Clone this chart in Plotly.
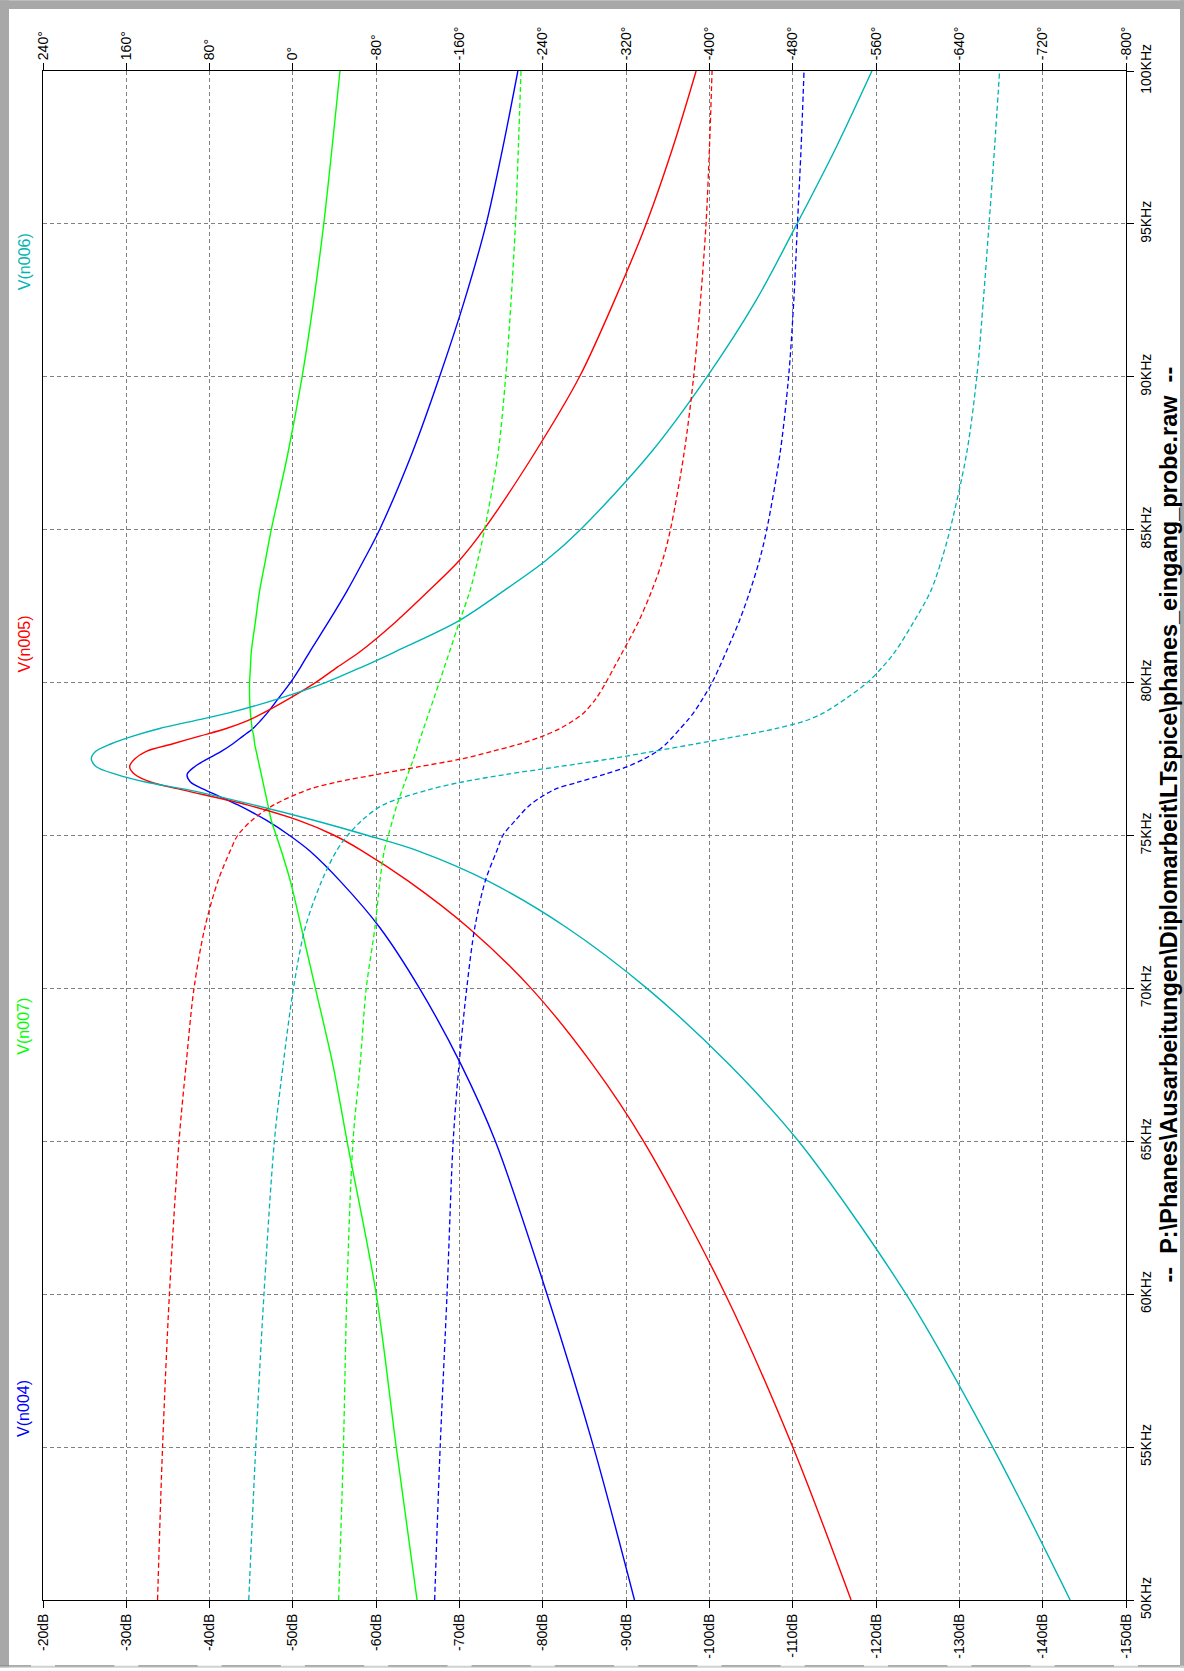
import plotly.graph_objects as go

# Frequency sweep points (kHz)
freq_khz = [50, 55, 60, 65, 67.5, 70, 72, 73.5, 74.5, 75, 75.5, 76, 76.5, 76.75, 77, 77.25,
            77.5, 77.75, 78, 78.25, 78.5, 78.75, 79, 79.5, 80, 80.5, 81, 82, 83, 84, 85, 87.5,
            90, 92.5, 95, 97.5, 100]

# Magnitudes (dB)
mag_n004 = [-91.0, -86.1, -80.5, -74.3, -70.2, -65.2, -60.4, -55.7, -52.0, -49.6, -46.8, -43.4,
            -39.4, -37.7, -37.3, -38.2, -39.7, -41.4, -42.8, -44.0, -45.2, -46.1, -46.9, -48.3,
            -49.7, -50.9, -52.0, -54.3, -56.5, -58.5, -60.4, -64.3, -67.6, -70.6, -73.2, -75.2,
            -77.0]
mag_n007 = [-64.9, -62.4, -60.0, -56.5, -54.8, -52.7, -51.0, -49.7, -48.6, -48.0, -47.4, -47.0,
            -46.6, -46.4, -46.2, -46.0, -45.8, -45.6, -45.4, -45.3, -45.1, -45.0, -44.9, -44.8,
            -44.8, -44.9, -45.0, -45.5, -46.0, -46.7, -47.4, -49.4, -51.1, -52.5, -53.7, -54.7,
            -55.65]
mag_n005 = [-117.0, -110.0, -101.9, -92.1, -86.0, -78.6, -71.0, -63.9, -58.3, -55.0, -50.6, -44.5,
            -36.6, -32.9, -31.0, -30.4, -31.0, -32.4, -35.6, -38.8, -42.0, -44.5, -46.4, -49.7,
            -52.7, -55.3, -58.0, -62.4, -66.3, -70.0, -72.9, -79.0, -84.4, -88.6, -92.4, -95.6,
            -98.4]
mag_n006 = [-143.3, -134.0, -123.6, -110.7, -102.4, -92.5, -82.8, -73.5, -65.0, -59.0, -52.5, -45.3,
            -37.3, -32.3, -28.8, -26.4, -25.8, -26.3, -28.2, -30.8, -34.0, -38.1, -42.2, -48.6,
            -53.9, -58.2, -62.2, -69.8, -75.3, -80.4, -84.5, -92.9, -99.7, -105.6, -110.5, -115.2,
            -119.5]

# Phases (degrees)
ph_n004 = [-136.1, -141.4, -148.0, -153.9, -159.5, -166.9, -174.7, -184.6, -195.8, -201.6, -213.8,
           -227.7, -251.0, -274.5, -299.0, -321.0, -337.0, -349.5, -358.5, -365.5, -372.0, -378.5,
           -384.5, -394.0, -402.5, -409.5, -416.0, -428.5, -439.0, -448.0, -455.0, -467.8, -476.0,
           -481.0, -484.5, -488.0, -490.8]
ph_n007 = [-43.9, -48.5, -51.8, -57.7, -64.5, -70.4, -78.8, -83.5, -87.7, -91.6, -95.7, -99.9,
           -105.0, -107.6, -110.3, -113.0, -115.7, -118.2, -120.6, -123.0, -125.5, -128.0, -130.5,
           -135.5, -140.5, -145.4, -150.3, -160.0, -170.0, -177.5, -184.0, -197.0, -204.3, -209.5,
           -213.7, -216.5, -219.0]
ph_n005 = [130.0, 125.2, 118.6, 109.4, 102.6, 95.0, 84.5, 72.1, 60.2, 53.1, 39.3, 18.3, -14.6,
           -42.6, -81.4, -121.2, -161.4, -191.1, -218.4, -240.0, -256.5, -269.0, -279.0, -291.5,
           -300.5, -308.5, -316.5, -332.0, -344.5, -355.0, -362.5, -375.6, -384.8, -391.4, -396.7,
           -400.0, -402.5]
ph_n006 = [42.4, 35.7, 27.8, 17.8, 9.4, -0.5, -11.9, -27.5, -41.9, -52.5, -66.4, -86.6, -130.9,
           -162.7, -205.0, -255.0, -303.7, -345.9, -387.3, -427.8, -464.3, -492.0, -509.0, -532.0,
           -551.5, -566.0, -578.0, -596.4, -612.6, -622.8, -631.0, -647.0, -656.7, -663.0, -668.5,
           -673.8, -678.6]

# Axis ticks
db_ticks = list(range(-20, -151, -10))
db_text = [f"{v}dB" for v in db_ticks]
ph_ticks = list(range(240, -801, -80))
ph_text = [f"{v}\u00b0" for v in ph_ticks]
f_ticks = list(range(50, 101, 5))
f_text = [f"{v}KHz" for v in f_ticks]

nodes = ["V(n004)", "V(n007)", "V(n005)", "V(n006)"]
colors = ["#0000FF", "#00FF00", "#FF0000", "#00B4B4"]
mags = [mag_n004, mag_n007, mag_n005, mag_n006]
phases = [ph_n004, ph_n007, ph_n005, ph_n006]

fig = go.Figure()
for name, col, mag, ph in zip(nodes, colors, mags, phases):
    fig.add_trace(go.Scatter(x=ph, y=freq_khz, xaxis="x2", yaxis="y", mode="lines",
                             line=dict(color=col, width=1.3, dash="5px,3px", shape="spline",
                                       smoothing=0.9),
                             name=name + " phase", showlegend=False, hoverinfo="skip"))
for name, col, mag, ph in zip(nodes, colors, mags, phases):
    fig.add_trace(go.Scatter(x=mag, y=freq_khz, xaxis="x", yaxis="y", mode="lines",
                             line=dict(color=col, width=1.4, shape="spline", smoothing=0.9),
                             name=name, showlegend=False, hoverinfo="skip"))

W, H = 1184, 1671
L, R, T, B = 43, 58, 71, 68
PW, PH = W - L - R, H - T - B
font_family = "Liberation Sans, Arial, sans-serif"
tick_font = dict(family=font_family, size=14, color="#000000")
grid = dict(showgrid=True, gridcolor="#808080", gridwidth=1, griddash="4px,3px")

fig.update_layout(
    width=W, height=H,
    margin=dict(l=L, r=R, t=T, b=B, pad=0),
    paper_bgcolor="#FFFFFF", plot_bgcolor="#FFFFFF",
    showlegend=False,
    xaxis=dict(range=[-20, -150], tickmode="array", tickvals=db_ticks, ticktext=db_text,
               tickangle=-90, tickfont=tick_font, ticks="outside", ticklen=7, tickcolor="#000",
               showline=True, linecolor="#000", linewidth=1, zeroline=False, **grid),
    xaxis2=dict(range=[240, -800], overlaying="x", side="top", tickmode="array",
                tickvals=ph_ticks, ticktext=ph_text, tickangle=-90, tickfont=tick_font,
                ticks="outside", ticklen=7, tickcolor="#000", showline=True, linecolor="#000",
                linewidth=1, showgrid=False, zeroline=False),
    yaxis=dict(range=[50, 100], side="right", tickmode="array", tickvals=f_ticks, ticktext=f_text,
               tickangle=-90, tickfont=tick_font, ticks="outside", ticklen=7, tickcolor="#000",
               showline=True, linecolor="#000", linewidth=1, mirror=True, zeroline=False, **grid),
)


def paper_x(px):
    return (px - L) / PW


def paper_y(py):
    return (H - B - py) / PH


# Trace names along the left edge
label_pos = [0.125, 0.375, 0.625, 0.875]
for name, col, yp in zip(nodes, colors, label_pos):
    fig.add_annotation(text=name, xref="paper", yref="paper", x=paper_x(24), y=yp,
                       xanchor="center", yanchor="middle", showarrow=False, textangle=-90,
                       font=dict(family=font_family, size=16, color=col))

# File name caption
fig.add_annotation(
    text="<b>--\u00a0\u00a0P:\\Phanes\\Ausarbeitungen\\Diplomarbeit\\LTspice\\phanes_eingang_probe.raw\u00a0\u00a0--</b>",
    xref="paper", yref="paper", x=paper_x(1169), y=paper_y(826), xanchor="center",
    yanchor="middle", showarrow=False, textangle=-90,
    font=dict(family=font_family, size=23.5, color="#000000"))

# Window frame
frame = "#A8A8A8"
for x0, y0, x1, y1 in [(0, 0, W, 9), (0, 0, 9, H), (W - 4, 0, W, H)]:
    fig.add_shape(type="rect", xref="paper", yref="paper", layer="below",
                  x0=paper_x(x0), x1=paper_x(x1), y0=paper_y(y1), y1=paper_y(y0),
                  fillcolor=frame, line=dict(width=0))
fig.add_shape(type="rect", xref="paper", yref="paper", layer="below",
              x0=paper_x(0), x1=paper_x(W), y0=paper_y(H), y1=paper_y(H - 2),
              fillcolor="#D0D0D0", line=dict(width=0))
# bottom edge line, interrupted under each dB label
edges = [0] + [x for t in db_ticks for x in (L + (t + 20) / -130 * PW - 12, L + (t + 20) / -130 * PW + 12)] + [W - 4]
for a, b in zip(edges[0::2], edges[1::2]):
    fig.add_shape(type="line", xref="paper", yref="paper", layer="below",
                  x0=paper_x(a), x1=paper_x(b), y0=paper_y(H - 2), y1=paper_y(H - 2),
                  line=dict(color="#808080", width=1))

fig.write_html("out.html")
